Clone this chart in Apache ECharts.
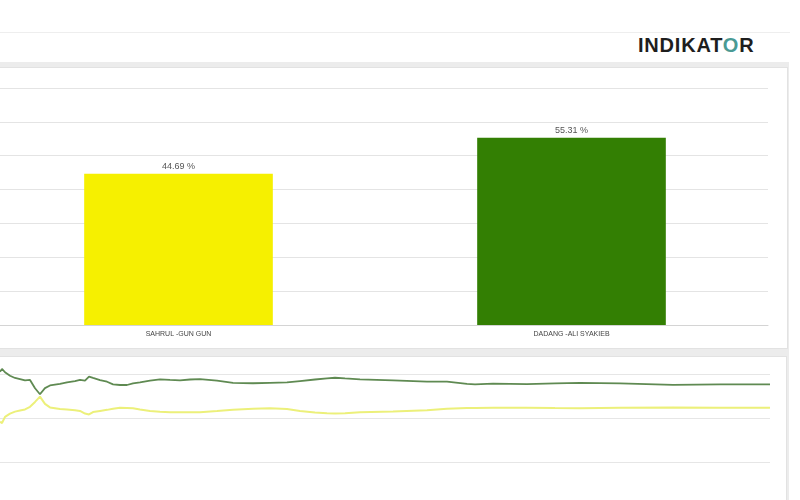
<!DOCTYPE html>
<html>
<head>
<meta charset="utf-8">
<script src="https://cdn.jsdelivr.net/npm/echarts/dist/echarts.min.js"></script>
<style>
  html, body { margin: 0; padding: 0; background: #ffffff; width: 800px; height: 500px; overflow: hidden; }
  #topline { position: absolute; left: 0; top: 32px; width: 790px; height: 1px; background: #eeeeee; }
  #logo { position: absolute; left: 638px; top: 34px; font-family: "Liberation Sans", Arial, sans-serif; font-weight: bold;
          font-size: 20px; letter-spacing: 0.8px; color: #1e1e1e; }
  #logo .o { color: #4a9a94; }
  #backdrop { position: absolute; left: 0; top: 62px; width: 789px; height: 438px; background: #ececec; }
  #panel1 { position: absolute; left: -2px; top: 67px; width: 788px; height: 280px; background: #fff; border: 1px solid #e2e2e2; }
  #panel2 { position: absolute; left: -2px; top: 356px; width: 787px; height: 150px; background: #fff; border: 1px solid #e2e2e2; }
  #chart { position: absolute; left: -18px; top: 0; width: 818px; height: 510px; }
</style>
</head>
<body>
<div id="topline"></div>
<div id="logo">INDIKAT<span class="o">O</span>R</div>
<div id="backdrop"></div>
<div id="panel1"></div>
<div id="panel2"></div>
<div id="chart"></div>
<script>
// Bar chart: final quick count result
const candidates = ['SAHRUL -GUN GUN', 'DADANG -ALI SYAKIEB'];
const finalShare = [44.69, 55.31];
const barColors = ['#f6f000', '#337f03'];

// Line chart: progress of counting (% data received) and running share
const progress = [0, 0.26, 0.65, 1.3, 1.95, 2.6, 3.25, 3.9, 4.55, 5.19,
  5.84, 6.49, 7.79, 8.7, 9.74, 10.39, 11.04, 11.56, 12.08, 12.99,
  13.9, 14.68, 15.58, 16.49, 17.27, 18.18, 19.48, 20.78, 22.08, 23.38,
  24.68, 25.97, 28.18, 30.26, 32.86, 35.06, 37.27, 38.96, 40.91, 42.47,
  43.51, 44.81, 46.75, 51.04, 55.45, 58.05, 60.65, 61.69, 64.03, 68.44,
  72.08, 75.32, 80.52, 87.4, 93.51, 100];
const dadangTrend = [61.0, 62.3, 60.8, 59.2, 58.2, 57.7, 57.1, 57.3, 53.5, 50.8,
  53.6, 54.8, 55.5, 56.2, 56.8, 57.3, 57.0, 58.8, 58.2, 57.2,
  56.5, 55.3, 55.0, 55.0, 55.7, 56.2, 57.0, 57.6, 57.3, 57.1,
  57.5, 57.7, 57.0, 56.0, 55.8, 56.0, 56.2, 56.8, 57.5, 58.0,
  58.3, 58.0, 57.6, 57.1, 56.5, 56.5, 55.5, 55.3, 55.6, 55.4,
  55.7, 56.0, 55.7, 55.1, 55.3, 55.31];
const sahrulTrend = [38.3, 37.7, 40.5, 42.0, 42.9, 43.4, 43.9, 45.1, 47.3, 49.7,
  46.4, 44.8, 44.1, 43.9, 43.5, 43.2, 42.0, 41.6, 42.7, 43.2,
  43.7, 44.2, 44.7, 44.6, 44.4, 43.9, 43.2, 42.8, 42.6, 42.6,
  42.6, 42.6, 43.2, 43.8, 44.2, 44.4, 44.1, 43.2, 42.5, 42.2,
  42.1, 42.2, 42.6, 42.9, 43.5, 44.2, 44.5, 44.6, 44.7, 44.7,
  44.5, 44.4, 44.7, 44.8, 44.7, 44.69];

const chart = echarts.init(document.getElementById('chart'), null, { renderer: 'canvas' });
const pair = (xs, ys) => xs.map((x, i) => [x, ys[i]]);

chart.setOption({
  backgroundColor: 'transparent',
  animation: false,
  grid: [
    { left: 0, right: 32, top: 88, bottom: 185 },
    { left: 18, right: 30, top: 363, bottom: 4 }
  ],
  xAxis: [
    {
      gridIndex: 0, type: 'category', data: candidates,
      axisLine: { lineStyle: { color: '#d4d4d4' } },
      axisTick: { lineStyle: { color: '#d4d4d4' }, length: 4 },
      axisLabel: { fontSize: 7, color: '#444', margin: 6, fontFamily: 'Liberation Sans' }
    },
    {
      gridIndex: 1, type: 'value', min: 0, max: 100,
      axisLine: { show: false }, axisTick: { show: false },
      axisLabel: { show: false }, splitLine: { show: false }
    }
  ],
  yAxis: [
    {
      gridIndex: 0, type: 'value', min: 0, max: 70, interval: 10,
      axisLabel: { show: false }, axisLine: { show: false }, axisTick: { show: false },
      splitLine: { lineStyle: { color: '#e4e4e4', width: 1 } }
    },
    {
      gridIndex: 1, type: 'value', min: 0, max: 65, interval: 20,
      axisLabel: { show: false }, axisLine: { show: false }, axisTick: { show: false },
      splitLine: { showMaxLine: false, showMinLine: false, lineStyle: { color: '#e6e6e6', width: 1 } }
    }
  ],
  series: [
    {
      type: 'bar', xAxisIndex: 0, yAxisIndex: 0, barWidth: '48%',
      data: finalShare.map((v, i) => ({ value: v, itemStyle: { color: barColors[i] } })),
      label: {
        show: true, position: 'top', distance: 3, formatter: '{c} %',
        fontSize: 9, color: '#555', fontFamily: 'Liberation Sans'
      }
    },
    {
      name: candidates[1], type: 'line', xAxisIndex: 1, yAxisIndex: 1,
      data: pair(progress, dadangTrend), showSymbol: false, symbol: 'none',
      lineStyle: { color: '#5f8a52', width: 1.8 }
    },
    {
      name: candidates[0], type: 'line', xAxisIndex: 1, yAxisIndex: 1,
      data: pair(progress, sahrulTrend), showSymbol: false, symbol: 'none',
      lineStyle: { color: '#ecf07a', width: 2 }
    }
  ]
});
</script>
</body>
</html>
